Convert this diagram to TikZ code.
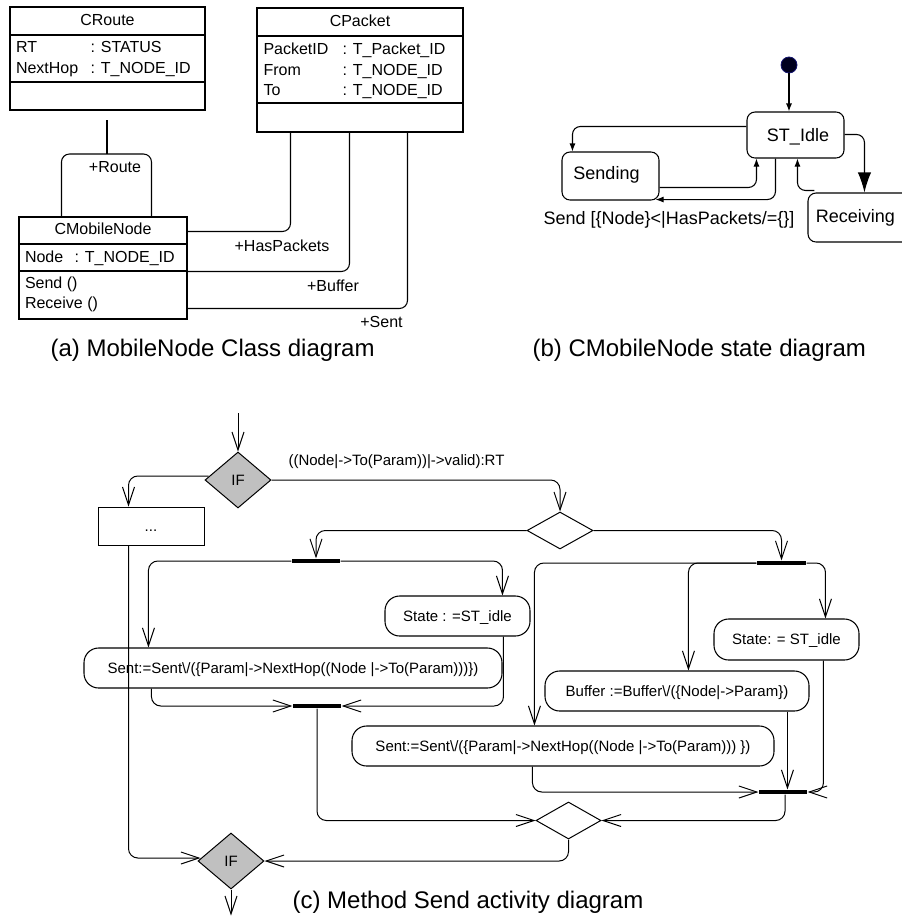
\documentclass[tikz,border=0pt]{standalone}
\usepackage{fontspec}
\setmainfont{Liberation Sans}
\usetikzlibrary{shapes.geometric,arrows.meta,calc}
\definecolor{ifgray}{RGB}{192,192,192}
\definecolor{initfill}{RGB}{0,0,30}
\begin{document}
\begin{tikzpicture}[x=0.75pt,y=-0.75pt,line width=0.8pt,
  ctext/.style={inner sep=0pt,font=\fontsize{12pt}{14pt}\selectfont,text height=8.6pt,text depth=0pt},
  clsbox/.style={draw,inner sep=0pt},
  assoc/.style={draw,rounded corners=6pt},
  sbox/.style={draw,rounded corners=6pt,inner sep=0pt},
  stext/.style={inner sep=0pt,font=\fontsize{13.5pt}{16pt}\selectfont,text height=9.7pt,text depth=0pt},
  sarr/.style={draw,-{Latex[length=6pt,width=4.5pt]},rounded corners=6pt},
  bigarr/.style={draw,-{Latex[length=15pt,width=10pt]},rounded corners=6pt},
  atext/.style={inner sep=0pt,font=\fontsize{11.25pt}{13pt}\selectfont,text height=8pt,text depth=0pt},
  abox/.style={draw,rounded corners=11pt,inner sep=0pt,minimum height=30pt,font=\fontsize{11.25pt}{13pt}\selectfont,text height=8pt,text depth=0pt},
  aarr/.style={draw,-{Straight Barb[length=13.5pt,width=9pt]},rounded corners=7pt,line width=0.75pt},
  syncbar/.style={fill=black,inner sep=0pt,minimum height=3pt,minimum width=36pt},
  decis/.style={diamond,draw,inner sep=0pt,line width=0.75pt,font=\fontsize{11.25pt}{13pt}\selectfont,text height=8pt,text depth=0pt},
  capt/.style={inner sep=0pt,font=\fontsize{18pt}{21pt}\selectfont,text height=12.9pt,text depth=0pt}
]
\useasboundingbox (0,0) rectangle (902,918);
\clip (0,0) rectangle (902,918);

% ---------------- (a) class diagram ----------------
\node[clsbox,minimum width=146.25pt,minimum height=77.25pt] (cr) at (107.5,58.5) {};
\draw (cr.west |- 0,35) -- (cr.east |- 0,35);
\draw (cr.west |- 0,82) -- (cr.east |- 0,82);
\node[ctext] (crh) at (107.5,20) {CRoute};
\node[ctext,anchor=west] (crrt) at (15.5,47) {RT};
\node[ctext,anchor=west] (crrtt) at (90,47) {: STATUS};
\node[ctext,anchor=west] (crnh) at (15.5,68) {NextHop};
\node[ctext,anchor=west] (crnht) at (90,68) {: T\_NODE\_ID};

\node[clsbox,minimum width=154.5pt,minimum height=93pt] (cp) at (360,70) {};
\draw (cp.west |- 0,36) -- (cp.east |- 0,36);
\draw (cp.west |- 0,103) -- (cp.east |- 0,103);
\node[ctext] (cph) at (360,21) {CPacket};
\node[ctext,anchor=west] (cpid) at (263,49) {PacketID};
\node[ctext,anchor=west] (cpidt) at (342,49) {: T\_Packet\_ID};
\node[ctext,anchor=west] (cpfr) at (263,69.5) {From};
\node[ctext,anchor=west] (cpfrt) at (342,69.5) {: T\_NODE\_ID};
\node[ctext,anchor=west] (cpto) at (263,90) {To};
\node[ctext,anchor=west] (cptot) at (342,90) {: T\_NODE\_ID};

\node[clsbox,minimum width=126pt,minimum height=76.5pt] (cmn) at (103,268) {};
\draw (cmn.west |- 0,244) -- (cmn.east |- 0,244);
\draw (cmn.west |- 0,271) -- (cmn.east |- 0,271);
\node[ctext] (cmnh) at (103,229) {CMobileNode};
\node[ctext,anchor=west] (cmnn) at (24.5,257) {Node};
\node[ctext,anchor=west] (cmnnt) at (74,257) {: T\_NODE\_ID};
\node[ctext,anchor=west] (cmns) at (24.5,283) {Send ()};
\node[ctext,anchor=west] (cmnr) at (24.5,303) {Receive ()};

\coordinate (rtop) at (107,120);
\coordinate (rjoin) at (107,154);
\draw (rtop) -- (rjoin);
\draw[assoc] ($(cmn.north west)+(43,0)$) |- (rjoin) -| ($(cmn.north west)+(133,0)$);
\node[ctext] (lroute) at (115,167) {+Route};

\draw[assoc] ($(cmn.north east)+(0,15)$) -| ($(cp.south west)+(34,0)$);
\draw[assoc] ($(cmn.north east)+(0,55)$) -| ($(cp.south west)+(93,0)$);
\draw[assoc] ($(cmn.north east)+(0,92)$) -| ($(cp.south west)+(151,0)$);
\node[ctext] (lhas) at (282,246) {+HasPackets};
\node[ctext] (lbuf) at (333,286) {+Buffer};
\node[ctext] (lsent) at (381.5,322) {+Sent};

\node[capt,anchor=west] (capa) at (50,348) {(a) MobileNode Class diagram};

% ---------------- (b) state diagram ----------------
\node[circle,draw={rgb,255:red,20;green,20;blue,110},fill=initfill,minimum size=12pt,inner sep=0pt,line width=0.6pt] (init) at (789,65) {};
\node[sbox,minimum width=72.75pt,minimum height=34.5pt] (idle) at (795.5,135) {};
\node[stext] (idlet) at (798,135) {ST\_Idle};
\node[sbox,minimum width=72.75pt,minimum height=36pt] (sending) at (610.5,176) {};
\node[stext] (sendingt) at (606.5,173) {Sending};
\node[sbox,minimum width=80.25pt,minimum height=36.75pt] (recv) at (861.5,217.5) {};
\node[stext] (recvt) at (855.5,216) {Receiving};

\draw[sarr] (init.south) -- (init.south |- idle.north);
\draw[sarr] ($(idle.north west)+(0,15)$) -| ($(sending.north west)+(11,0)$);
\draw[sarr] ($(sending.north east)+(0,36)$) -| ($(idle.south west)+(10,0)$);
\draw[sarr] ($(idle.south west)+(29,0)$) |- ($(sending.south east)+(-4,-1)$);
\draw[bigarr] ($(idle.north east)+(0,23)$) -| ($(recv.north west)+(57,0)$);
\draw[sarr] ($(recv.north west)+(7,-2)$) -| ($(idle.south west)+(51,0)$);
\node[stext,anchor=west] (guard) at (543,218) {Send [\{Node\}<|HasPackets/=\{\}]};

\node[capt,anchor=west] (capb) at (532,348) {(b) CMobileNode state diagram};

% ---------------- (c) activity diagram ----------------
\coordinate (ain) at (238,413);
\node[decis,fill=ifgray,minimum width=49.5pt,minimum height=42pt] (if1) at (238,480) {IF};
\node[atext,anchor=west] (cond) at (288,460) {((Node|->To(Param))|->valid):RT};
\node[draw,inner sep=0pt,line width=0.75pt,minimum width=79.5pt,minimum height=28.5pt] (dots) at (151,526) {};
\node[atext] (dotst) at (151,526) {...};
\node[decis,minimum width=49.5pt,minimum height=27.75pt] (d1) at (560,530.5) {};
\node[syncbar] (fb1) at (316,561) {};
\node[syncbar,minimum width=36.75pt] (fb2) at (781.5,563) {};
\node[abox,minimum width=108.75pt] (st1) at (457.5,616) {State : =ST\_idle};
\node[abox,minimum width=313.5pt] (sent1) at (293,668) {Sent:=Sent\textbackslash/(\{Param|->NextHop((Node |->To(Param)))\})};
\node[syncbar] (jb1) at (317,706) {};
\node[abox,minimum width=108.75pt,minimum height=30.75pt] (st2) at (786.5,639.5) {State: = ST\_idle};
\node[abox,minimum width=198pt] (buf) at (677,691) {Buffer :=Buffer\textbackslash/(\{Node|->Param\})};
\node[abox,minimum width=316.5pt] (sent2) at (563,746) {Sent:=Sent\textbackslash/(\{Param|->NextHop((Node |->To(Param))) \})};
\node[syncbar] (jb2) at (783,792) {};
\node[decis,minimum width=48.75pt,minimum height=27.75pt] (d2) at (568.5,820.5) {};
\node[decis,fill=ifgray,minimum width=49.5pt,minimum height=42pt] (if2) at (231,861) {IF};

\draw[aarr] (ain) -- (if1.north);
\draw[aarr] (if1.east) -| (d1.north);
\draw[aarr] ($(if1.west)+(4,-4)$) -| ($(dots.north west)+(31,0)$);
\draw[aarr] (d1.west) -| (fb1.north);
\draw[aarr] (d1.east) -| (fb2.north);
\draw[aarr] (fb1.west) -| ($(sent1.north west)+(65,0)$);
\draw[aarr] (fb1.east) -| ($(st1.north west)+(118,0)$);
\draw[aarr] ($(sent1.south west)+(68,0)$) |- (jb1.west);
\draw[aarr] ($(st1.south west)+(119,0)$) |- (jb1.east);
\draw[aarr] (jb1.south) |- (d2.west);
\draw[aarr] (fb2.west) -| ($(sent2.north west)+(183,0)$);
\draw[aarr] (fb2.west) -| ($(buf.north west)+(144,0)$);
\draw[aarr] (fb2.east) -| ($(st2.north west)+(112,0)$);
\coordinate (bufb) at ($(buf.south west)+(243,0)$);
\draw[aarr] (bufb) -- (bufb |- jb2.north);
\draw[aarr] ($(st2.south west)+(110,0)$) |- (jb2.east);
\draw[aarr] ($(sent2.south west)+(181,0)$) |- (jb2.west);
\draw[aarr] ($(jb2.south)+(2,0)$) |- (d2.east);
\draw[aarr] (d2.south) |- (if2.east);
\draw[aarr] ($(dots.south west)+(31,0)$) |- ($(if2.west)+(3,-3)$);
\coordinate (aout) at ($(if2.south)+(0,26)$);
\draw[aarr] (if2.south) -- (aout);

\node[capt,anchor=west] (capc) at (292,900) {(c) Method Send activity diagram};
\end{tikzpicture}
\end{document}
